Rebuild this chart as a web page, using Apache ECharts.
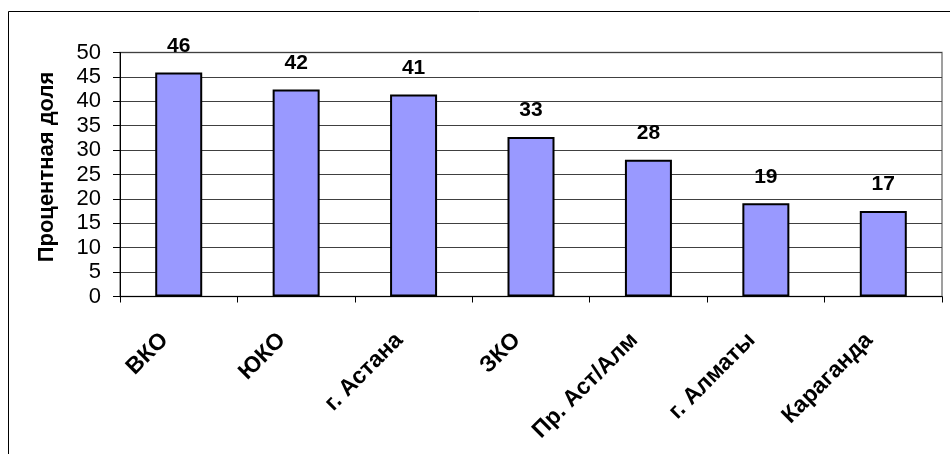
<!DOCTYPE html>
<html>
<head>
<meta charset="utf-8">
<script src="https://cdn.jsdelivr.net/npm/echarts@6/dist/echarts.min.js"></script>
<style>
html,body{margin:0;padding:0;background:#fff;}
#chart{width:950px;height:454px;}
</style>
</head>
<body>
<div id="chart"></div>
<script>
var categories = ['ВКО', 'ЮКО', 'г. Астана', 'ЗКО', 'Пр. Аст/Алм', 'г. Алматы', 'Караганда'];
var values = [45.9, 42.4, 41.4, 32.7, 28.0, 19.1, 17.5];
var valueLabels = ['46', '42', '41', '33', '28', '19', '17'];
var yTicks = [0, 5, 10, 15, 20, 25, 30, 35, 40, 45, 50];
var yAxisTitle = 'Процентная доля';

var chart = echarts.init(document.getElementById('chart'));
var font = 'Arial, "Liberation Sans", sans-serif';
chart.setOption({
  animation: false,
  backgroundColor: '#fff',
  graphic: [{
    type: 'rect', silent: true,
    shape: {x: 8.5, y: 11.5, width: 960, height: 460},
    style: {fill: 'none', stroke: '#000', lineWidth: 1}
  }],
  grid: {left: 120, right: 8, top: 52.5, bottom: 157.5, show: true, borderColor: '#808080', borderWidth: 1.5, backgroundColor: 'transparent'},
  xAxis: {
    type: 'category',
    data: categories,
    axisLine: {lineStyle: {color: '#000', width: 1}},
    axisTick: {show: true, alignWithLabel: false, length: 6, lineStyle: {color: '#000'}},
    axisLabel: {rotate: 45, margin: 26, padding: [0, 20, 0, 0], color: '#000', fontFamily: font, fontWeight: 'bold', fontSize: 23, interval: 0}
  },
  yAxis: {
    type: 'value',
    min: yTicks[0], max: yTicks[yTicks.length - 1], interval: 5,
    name: yAxisTitle, nameLocation: 'middle', nameGap: 62,
    nameTextStyle: {color: '#000', fontFamily: font, fontWeight: 'bold', fontSize: 22, padding: [0, 0, 0, 15]},
    axisLine: {show: true, lineStyle: {color: '#000', width: 1}},
    axisTick: {show: true, length: 7, lineStyle: {color: '#000'}},
    axisLabel: {margin: 19, color: '#000', fontFamily: font, fontSize: 22},
    splitLine: {show: true, lineStyle: {color: '#404040', width: 1}}
  },
  series: [{
    type: 'bar',
    data: values,
    barWidth: 47,
    itemStyle: {color: '#9999FF', borderColor: '#000', borderWidth: 2},
    label: {
      show: true, position: 'top', distance: 16,
      color: '#000', fontFamily: font, fontWeight: 'bold', fontSize: 21,
      formatter: function (p) { return valueLabels[p.dataIndex]; }
    }
  }]
});
</script>
</body>
</html>
